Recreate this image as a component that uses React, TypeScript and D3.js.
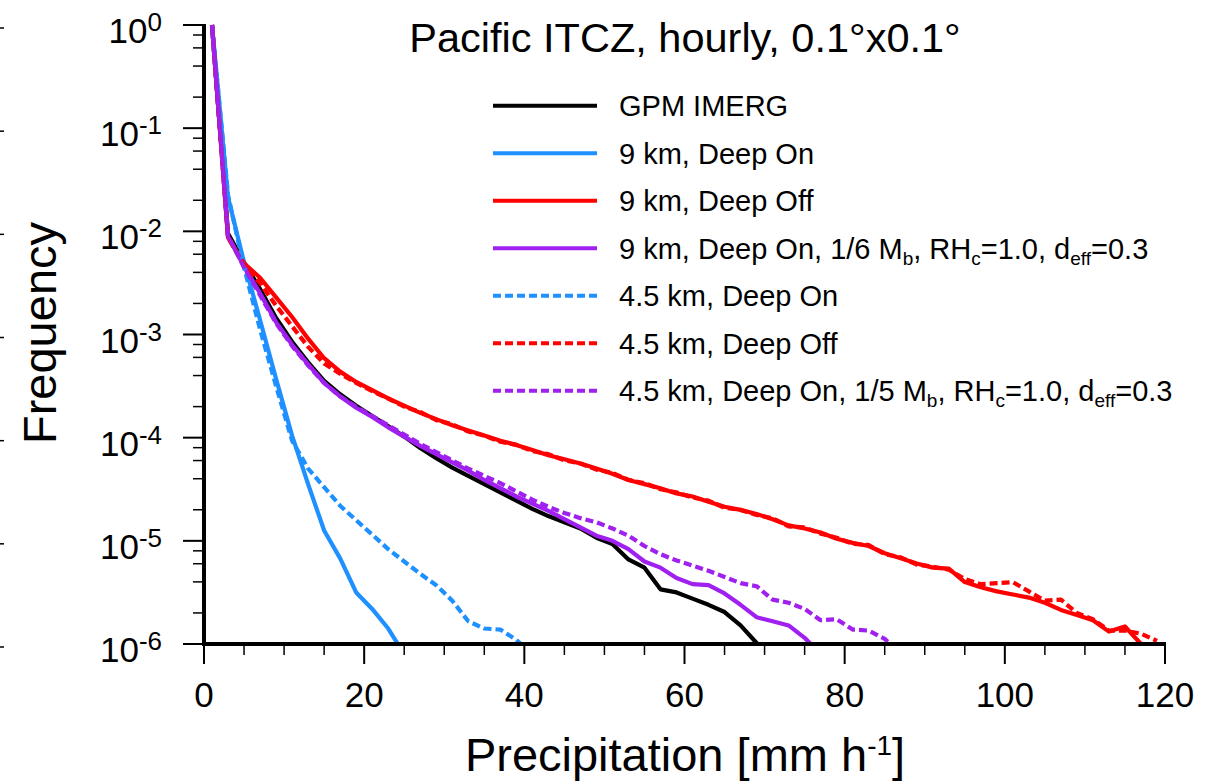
import React, { useRef, useEffect } from 'react';
import * as d3 from 'd3';

const WIDTH = 1205;
const HEIGHT = 782;
const FONT = '"Liberation Sans", Arial, Helvetica, sans-serif';

// bin centres [mm/h]
const bins = [
  1, 3, 5, 7, 9, 11, 13, 15, 17, 19, 21, 23, 25, 27, 29, 31, 33, 35, 37, 39,
  41, 43, 45, 47, 49, 51, 53, 55, 57, 59, 61, 63, 65, 67, 69, 71, 73, 75, 77, 79,
  81, 83, 85, 87, 89, 91, 93, 95, 97, 99, 101, 103, 105, 107, 109, 111, 113, 115, 117, 119,
];

// log10(frequency)
const imergLog = [
  0, -2.02, -2.3, -2.56, -2.84, -3.07, -3.27, -3.45, -3.58, -3.69,
  -3.79, -3.89, -3.99, -4.1, -4.2, -4.29, -4.37, -4.45, -4.53, -4.61,
  -4.69, -4.76, -4.82, -4.88, -4.97, -5.03, -5.18, -5.26, -5.47, -5.5,
  -5.56, -5.62, -5.69, -5.82, -5.99, -6.15,
];
const deepOn9Log = [0, -1.67, -2.3, -2.86, -3.43, -3.98, -4.45, -4.9, -5.17, -5.5, -5.66, -5.85, -6.1];
const deepOff9Log = [
  0, -2.06, -2.31, -2.45, -2.64, -2.83, -3.04, -3.23, -3.36, -3.46,
  -3.54, -3.62, -3.69, -3.76, -3.82, -3.88, -3.93, -3.98, -4.03, -4.07,
  -4.12, -4.17, -4.21, -4.25, -4.3, -4.35, -4.41, -4.45, -4.49, -4.54,
  -4.57, -4.62, -4.67, -4.7, -4.74, -4.79, -4.85, -4.88, -4.92, -4.98,
  -5.02, -5.05, -5.12, -5.17, -5.22, -5.26, -5.27, -5.4, -5.45, -5.49,
  -5.52, -5.55, -5.6, -5.67, -5.72, -5.77, -5.88, -5.83, -6.0, -6.15,
];
const tuned9Log = [
  0, -2.05, -2.34, -2.6, -2.88, -3.1, -3.29, -3.47, -3.6, -3.71,
  -3.8, -3.9, -3.99, -4.08, -4.16, -4.24, -4.32, -4.41, -4.49, -4.57,
  -4.64, -4.71, -4.79, -4.87, -4.95, -5.0, -5.08, -5.2, -5.26, -5.36,
  -5.42, -5.43, -5.51, -5.62, -5.74, -5.78, -5.82, -5.94, -6.1,
];
const deepOn45Log = [
  0, -1.65, -2.35, -2.95, -3.5, -4.03, -4.3, -4.48, -4.66, -4.8,
  -4.94, -5.08, -5.2, -5.32, -5.43, -5.58, -5.78, -5.85, -5.86, -5.96, -6.1,
];
const deepOff45Log = [
  0, -2.06, -2.33, -2.5, -2.72, -2.92, -3.12, -3.28, -3.38, -3.47,
  -3.55, -3.62, -3.7, -3.75, -3.83, -3.87, -3.94, -3.98, -4.04, -4.07,
  -4.13, -4.16, -4.22, -4.25, -4.31, -4.34, -4.41, -4.44, -4.5, -4.53,
  -4.58, -4.61, -4.68, -4.7, -4.75, -4.78, -4.86, -4.87, -4.93, -4.97,
  -5.03, -5.04, -5.13, -5.16, -5.23, -5.25, -5.28, -5.37, -5.42, -5.41,
  -5.4, -5.49, -5.58, -5.57, -5.7, -5.76, -5.87, -5.87, -5.9, -5.97,
];
const tuned45Log = [
  0, -2.04, -2.35, -2.62, -2.89, -3.11, -3.3, -3.47, -3.6, -3.7,
  -3.79, -3.88, -3.97, -4.06, -4.14, -4.22, -4.3, -4.37, -4.44, -4.52,
  -4.6, -4.67, -4.73, -4.78, -4.82, -4.88, -4.95, -5.05, -5.13, -5.19,
  -5.24, -5.29, -5.35, -5.41, -5.44, -5.57, -5.6, -5.66, -5.77, -5.76,
  -5.86, -5.87, -5.95, -6.1,
];

const xTicks = [0, 20, 40, 60, 80, 100, 120];
const yTickExps = [0, -1, -2, -3, -4, -5, -6];

type Part = { t: string; sub?: boolean };

const series: { label: Part[]; values: number[]; color: string; dashed: boolean }[] = [
  { label: [{ t: 'GPM IMERG' }], values: imergLog, color: '#000000', dashed: false },
  { label: [{ t: '9 km, Deep On' }], values: deepOn9Log, color: '#1E90FF', dashed: false },
  { label: [{ t: '9 km, Deep Off' }], values: deepOff9Log, color: '#FF0000', dashed: false },
  {
    label: [{ t: '9 km, Deep On, 1/6 M' }, { t: 'b', sub: true }, { t: ', RH' }, { t: 'c', sub: true }, { t: '=1.0, d' }, { t: 'eff', sub: true }, { t: '=0.3' }],
    values: tuned9Log, color: '#A020F0', dashed: false,
  },
  { label: [{ t: '4.5 km, Deep On' }], values: deepOn45Log, color: '#1E90FF', dashed: true },
  { label: [{ t: '4.5 km, Deep Off' }], values: deepOff45Log, color: '#FF0000', dashed: true },
  {
    label: [{ t: '4.5 km, Deep On, 1/5 M' }, { t: 'b', sub: true }, { t: ', RH' }, { t: 'c', sub: true }, { t: '=1.0, d' }, { t: 'eff', sub: true }, { t: '=0.3' }],
    values: tuned45Log, color: '#A020F0', dashed: true,
  },
];

const App = () => {
  const svgRef = useRef<SVGSVGElement>(null);

  useEffect(() => {
    const svg = d3.select(svgRef.current);
    svg.selectAll('*').remove();

    const x = d3.scaleLinear().domain([0, 120]).range([204, 1165]);
    const y = d3.scaleLog().domain([1e-6, 1]).range([644, 25]);

    svg.append('defs').append('clipPath').attr('id', 'plot-clip')
      .append('rect').attr('x', 204).attr('y', 0).attr('width', 962).attr('height', 644);

    // curves
    const line = d3.line<[number, number]>().x(d => x(d[0])).y(d => y(d[1]));
    const plot = svg.append('g').attr('clip-path', 'url(#plot-clip)');
    series.forEach(s => {
      const pts = s.values.map((v, i) => [bins[i], Math.pow(10, v)] as [number, number]);
      plot.append('path')
        .attr('d', line(pts))
        .attr('fill', 'none')
        .attr('stroke', s.color)
        .attr('stroke-width', 4.2)
        .attr('stroke-linejoin', 'round')
        .attr('stroke-dasharray', s.dashed ? '8,4' : null);
    });

    // axes
    const axes = svg.append('g').attr('stroke', '#000');
    axes.append('line').attr('x1', 204).attr('x2', 204).attr('y1', 24).attr('y2', 646).attr('stroke-width', 4);
    axes.append('line').attr('x1', 202).attr('x2', 1166).attr('y1', 644).attr('y2', 644).attr('stroke-width', 4);

    yTickExps.forEach(e => {
      const yy = y(Math.pow(10, e));
      axes.append('line').attr('x1', 183).attr('x2', 204).attr('y1', yy).attr('y2', yy).attr('stroke-width', 2);
      // tick marks of the neighbouring panel at the left edge
      axes.append('line').attr('x1', 0).attr('x2', 4).attr('y1', yy + 3).attr('y2', yy + 3).attr('stroke-width', 1.5);
      if (e < 0) {
        [2, 4, 6, 8].forEach(m => {
          const ym = y(m * Math.pow(10, e));
          axes.append('line').attr('x1', 193).attr('x2', 204).attr('y1', ym).attr('y2', ym).attr('stroke-width', 1.5);
        });
      }
      const t = svg.append('text')
        .attr('x', 162).attr('y', yy + 18)
        .attr('text-anchor', 'end')
        .style('font-family', FONT).style('font-size', '35px');
      t.append('tspan').text('10');
      t.append('tspan').attr('dy', -12).style('font-size', '26px').text(String(e));
    });

    d3.range(0, 121, 5).forEach(v => {
      const major = v % 20 === 0;
      axes.append('line').attr('x1', x(v)).attr('x2', x(v))
        .attr('y1', 644).attr('y2', major ? 664 : 655)
        .attr('stroke-width', major ? 2 : 1.5);
    });
    xTicks.forEach(v => {
      svg.append('text').attr('x', x(v)).attr('y', 707)
        .attr('text-anchor', 'middle')
        .style('font-family', FONT).style('font-size', '35px')
        .text(v);
    });

    // titles
    svg.append('text').attr('x', 685).attr('y', 52).attr('text-anchor', 'middle')
      .style('font-family', FONT).style('font-size', '41.5px')
      .text('Pacific ITCZ, hourly, 0.1°x0.1°');

    const xt = svg.append('text').attr('x', 685).attr('y', 771).attr('text-anchor', 'middle')
      .style('font-family', FONT).style('font-size', '47px');
    xt.append('tspan').text('Precipitation [mm h');
    xt.append('tspan').attr('dy', -16).style('font-size', '28px').text('-1');
    xt.append('tspan').attr('dy', 16).text(']');

    svg.append('text')
      .attr('transform', 'translate(56,333) rotate(-90)')
      .attr('text-anchor', 'middle')
      .style('font-family', FONT).style('font-size', '47px')
      .text('Frequency');

    // legend
    series.forEach((s, i) => {
      const ly = 105.7 + i * 47.5;
      svg.append('line').attr('x1', 493).attr('x2', 597).attr('y1', ly).attr('y2', ly)
        .attr('stroke', s.color).attr('stroke-width', 4)
        .attr('stroke-dasharray', s.dashed ? '8,4' : null);
      const t = svg.append('text').attr('x', 619).attr('y', ly + 10.5)
        .style('font-family', FONT).style('font-size', '29px');
      let shifted = false;
      s.label.forEach(p => {
        const ts = t.append('tspan').text(p.t);
        if (p.sub && !shifted) { ts.attr('dy', 6).style('font-size', '19px'); shifted = true; }
        else if (p.sub) { ts.style('font-size', '19px'); }
        else if (shifted) { ts.attr('dy', -6); shifted = false; }
      });
    });
  }, []);

  return (
    <svg
      ref={svgRef}
      width={WIDTH}
      height={HEIGHT}
      style={{ position: 'absolute', left: 0, top: 0, background: '#fff' }}
    />
  );
};

export default App;
